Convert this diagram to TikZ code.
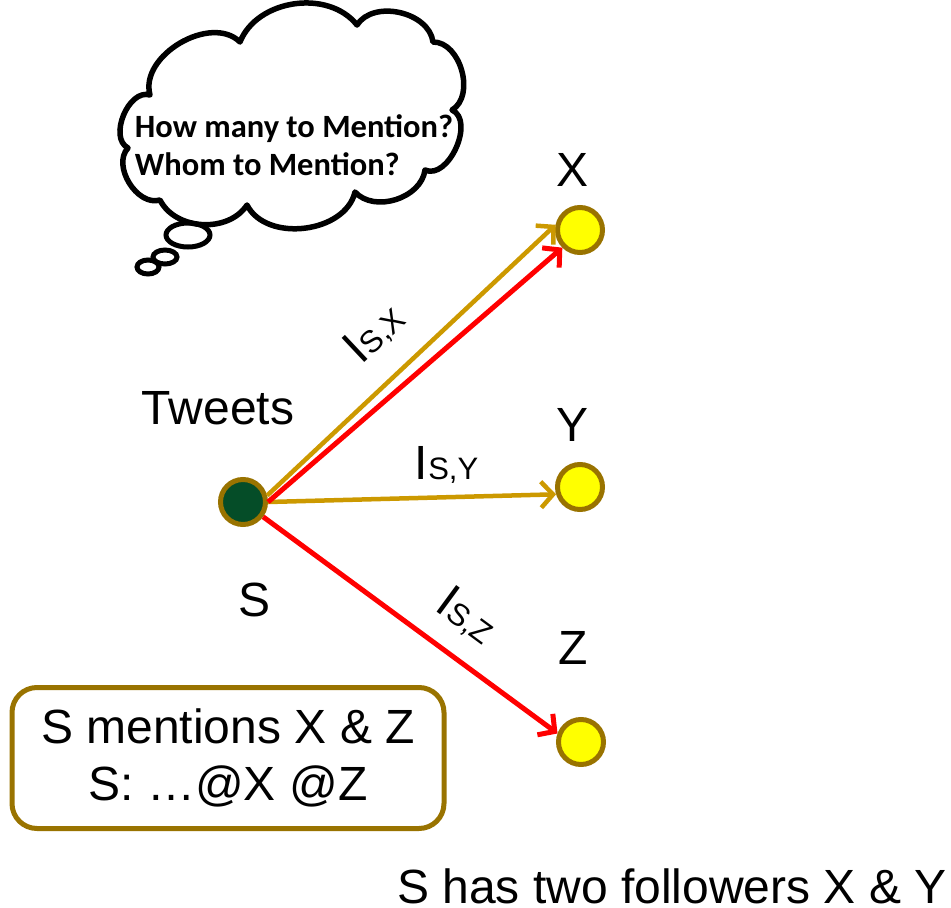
\documentclass[tikz,border=0pt]{standalone}
\usepackage{fontspec}
\setmainfont{Liberation Sans}
\newfontfamily\cloudfont{Carlito}
\usetikzlibrary{arrows.meta,positioning}

\definecolor{gold}{HTML}{CC9900}
\definecolor{rim}{HTML}{997300}
\definecolor{leaf}{HTML}{054D28}
\definecolor{ylw}{HTML}{FFFF00}

\newcommand\infl[1]{{\fontsize{48}{48}\selectfont I}{\fontsize{31}{31}\selectfont S,#1}}

\tikzset{
  user/.style={circle,draw=rim,line width=5pt,fill=ylw,minimum size=45pt,inner sep=0pt},
  big/.style={font=\fontsize{48}{57}\selectfont,inner sep=0pt},
  follow/.style={draw=gold,line width=4.5pt,-{Straight Barb[length=12pt,width=26pt]}},
  mention/.style={draw=red,line width=5pt,-{Straight Barb[length=12pt,width=26pt]}},
}

\begin{document}
\begin{tikzpicture}[x=1pt,y=-1pt]
\useasboundingbox (0,0) rectangle (951,908);

% thought cloud
\draw[line width=5.5pt,line join=round]
  (150,95) to[bend right=85] (128,148) to[bend right=75] (160,200)
  to[bend right=60] (247,205) to[bend right=70] (355,192)
  to[bend right=65] (425,170) to[bend right=90] (452,110)
  to[bend right=75] (433,42) to[bend right=70] (357,25)
  to[bend right=60] (240,42) to[bend right=75] (150,95) -- cycle;
\draw[line width=5pt] (188,235) ellipse [x radius=22, y radius=12];
\draw[line width=5pt] (165,257) ellipse [x radius=12, y radius=7];
\draw[line width=5pt] (148,267) ellipse [x radius=11, y radius=7];
\node[align=left,inner sep=0pt,font=\cloudfont\bfseries\fontsize{32.5}{38}\selectfont] (ask) at (294,145)
  {How many to Mention?\\Whom to Mention?};

% users
\node[user,fill=leaf] (S) at (243,502) {};
\node[user] (X) at (580,230) {};
\node[user] (Y) at (580,487) {};
\node[user] (Z) at (581,742) {};

\node[big] (xlab) at (573,170) {X};
\node[big] (ylab) at (573,425) {Y};
\node[big] (zlab) at (573,648) {Z};
\node[big] (slab) at (255,600) {S};
\node[big] (tweets) at (218,408) {Tweets};

% follower and mention edges
\draw[follow] (S.15) -- node[sloped,above=24pt,pos=0.48,inner sep=0pt] (ix) {\infl{X}} (X.168);
\draw[follow] (S.east) -- node[above=12pt,pos=0.62,inner sep=0pt] (iy) {\infl{Y}} (Y.197);
\draw[mention] (S.east) -- (X.225);
\draw[mention] (S) -- node[sloped,above=20pt,pos=0.61,inner sep=0pt] (iz) {\infl{Z}} (Z.160);

% tweet box
\node[big,draw=rim,line width=5pt,rounded corners=25pt,minimum width=432pt,minimum height=141pt,align=center] (post) at (228,758)
  {S mentions X \& Z\\S: …@X @Z};

\node[big,anchor=base] (note) at (672,903) {S has two followers X \& Y};
\end{tikzpicture}
\end{document}
